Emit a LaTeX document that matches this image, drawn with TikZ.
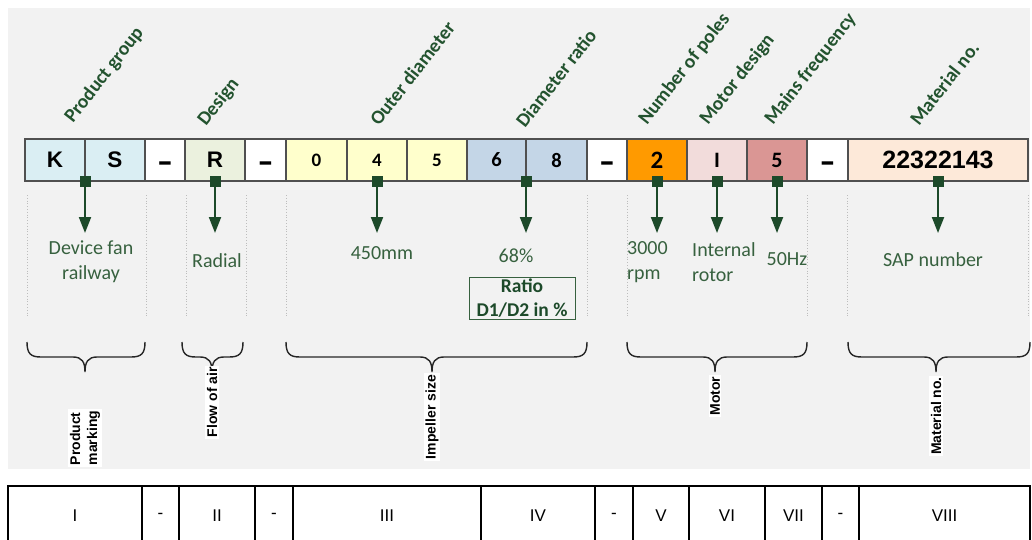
\documentclass[tikz,border=0pt]{standalone}
\usepackage{fontspec}
\setmainfont{Carlito}
\newfontfamily\arialf{Liberation Sans}
\usetikzlibrary{arrows.meta}
\definecolor{bgc}{HTML}{F2F2F2}
\definecolor{boxline}{HTML}{505050}
\definecolor{cKS}{HTML}{DAEEF3}
\definecolor{cR}{HTML}{EBF1DE}
\definecolor{cY}{HTML}{FFFFCC}
\definecolor{cB}{HTML}{C4D6E7}
\definecolor{cO}{HTML}{FF9A00}
\definecolor{cI}{HTML}{F2DCDB}
\definecolor{cF}{HTML}{DA9694}
\definecolor{cM}{HTML}{FDE9D9}
\definecolor{dgreen}{HTML}{1D4A2A}
\definecolor{labgreen}{HTML}{23532F}
\definecolor{valgreen}{HTML}{37613F}
\definecolor{dotc}{HTML}{BDBDBD}
\newcommand\mybrace[3]{\draw[bracestyle] (#1,342) .. controls (#1,354) and (#1+4,357) .. (#1+14,357) -- (#2-12,357) .. controls (#2-3,357) and (#2,362) .. (#2,372) .. controls (#2,362) and (#2+3,357) .. (#2+12,357) -- (#3-14,357) .. controls (#3-4,357) and (#3,354) .. (#3,342);}
\newcommand\bdash{\scalebox{1.1}[1.6]{–}}
\begin{document}
\begin{tikzpicture}[x=1pt,y=-1pt,
  codebox/.style={draw=boxline, line width=1.2pt, minimum height=42pt, inner sep=0pt},
  bigA/.style={font=\arialf\bfseries\fontsize{22.5}{22.5}\selectfont},
  dashbox/.style={codebox, fill=white, text height=24pt, text depth=0pt, font=\arialf\bfseries\fontsize{21}{21}\selectfont},
  dig/.style={font=\bfseries\fontsize{19}{19}\selectfont},
  toplab/.style={rotate=52, anchor=base west, inner sep=0pt, text=labgreen, font=\bfseries\fontsize{19.5}{19.5}\selectfont},
  marker/.style={fill=dgreen, minimum size=11pt, inner sep=0pt},
  arr/.style={draw=dgreen, line width=2pt, -{Triangle[length=16pt,width=12pt]}},
  val/.style={inner sep=0pt, text=valgreen, font=\fontsize{20}{25}\selectfont},
  dotline/.style={draw=dotc, line width=0.8pt, dotted},
  bracestyle/.style={draw=black!85, line width=1.4pt},
  vlab/.style={rotate=90, fill=white, inner sep=1.5pt, font=\arialf\bfseries\fontsize{14}{17}\selectfont},
  cell/.style={draw=black, line width=2pt, minimum height=60pt, inner sep=0pt, font=\arialf\fontsize{17}{17}\selectfont}]
\useasboundingbox (0,0) rectangle (1032,540);
\clip (0,0) rectangle (1032,540);
\fill[bgc] (8,8) rectangle (1030,469);

% dotted guides
\foreach \x in {27,146,186,246,286,587,627,807,847,1028}
  \draw[dotline] (\x,195) -- (\x,318);

% code row
\node[codebox, fill=cKS, minimum width=60pt, bigA] (bK) at (55,160) {K};
\node[codebox, fill=cKS, minimum width=60pt, bigA] (bS) at (115,160) {S};
\node[dashbox, minimum width=40pt] (d1) at (165,160) {\bdash};
\node[codebox, fill=cR, minimum width=60pt, bigA] (bR) at (215,160) {R};
\node[dashbox, minimum width=41pt] (d2) at (265.5,160) {\bdash};
\node[codebox, fill=cY, minimum width=61pt, dig] (b0) at (316.5,160) {0};
\node[codebox, fill=cY, minimum width=60pt, dig] (b4) at (377,160) {4};
\node[codebox, fill=cY, minimum width=60pt, dig] (b5) at (437,160) {5};
\node[codebox, fill=cB, minimum width=59pt, font=\bfseries\fontsize{20.5}{20.5}\selectfont] (b6) at (496.5,160) {6};
\node[codebox, fill=cB, minimum width=61pt, font=\bfseries\fontsize{20.5}{20.5}\selectfont] (b8) at (556.5,160) {8};
\node[dashbox, minimum width=40pt] (d3) at (607,160) {\bdash};
\node[codebox, fill=cO, minimum width=60pt, font=\bfseries\fontsize{25}{25}\selectfont] (b2) at (657,160) {2};
\node[codebox, fill=cI, minimum width=60pt, font=\bfseries\fontsize{22}{22}\selectfont] (bI) at (717,160) {I};
\node[codebox, fill=cF, minimum width=60pt, font=\bfseries\fontsize{22}{22}\selectfont] (b5b) at (777,160) {5};
\node[dashbox, minimum width=41pt] (d4) at (827.5,160) {\bdash};
\node[codebox, fill=cM, minimum width=180pt, font=\arialf\bfseries\fontsize{25}{25}\selectfont] (bM) at (938,160) {22322143};

% top labels
\node[toplab] (t1) at (73,124) {Product group};
\node[toplab] (t2) at (206,127) {Design};
\node[toplab] (t3) at (379,127) {Outer diameter};
\node[toplab] (t4) at (525,129) {Diameter ratio};
\node[toplab] (t5) at (647,126) {Number of poles};
\node[toplab] (t6) at (708,126) {Motor design};
\node[toplab] (t7) at (773,126) {Mains frequency};
\node[toplab] (t8) at (919,127) {Material no.};

% markers and arrows
\foreach \n/\x in {1/85,2/215,3/377,4/526,5/657,6/717,7/777,8/938}{
  \node[marker] (m\n) at (\x,181) {};
  \coordinate (e\n) at (\x,233);
  \draw[arr] (m\n.south) -- (e\n);
}

% values
\node[val, align=center] (v1) at (91,262) {Device fan\\railway};
\node[val] (v2) at (217,260.5) {Radial};
\node[val] (v3) at (382,253.5) {450mm};
\node[val] (v4) at (516,255.5) {68\%};
\node[val, align=left, anchor=west] (v5) at (627,262) {3000\\rpm};
\node[val, align=left, anchor=west] (v6) at (692,262) {Internal\\rotor};
\node[val] (v7) at (787,259) {50Hz};
\node[val] (v8) at (933,259.5) {SAP number};
\node[draw=valgreen, line width=0.8pt, minimum width=106pt, minimum height=42pt, inner sep=0pt, align=center, text=dgreen, font=\bfseries\fontsize{19.5}{24}\selectfont] (ratio) at (522,298) {Ratio\\D1/D2 in \%};

% braces
\mybrace{27}{85}{145}
\mybrace{182}{212}{243}
\mybrace{286}{432}{587}
\mybrace{627}{715}{807}
\mybrace{848}{936}{1030}

% vertical labels
\node[vlab, align=left] (g1) at (85,438) {Product\\marking};
\node[vlab] (g2) at (212,402) {Flow of air};
\node[vlab] (g3) at (432,417) {Impeller size};
\node[vlab] (g4) at (715,396) {Motor};
\node[vlab] (g5) at (936,416) {Material no.};

% bottom table
\foreach \n/\a/\b/\t in {1/8/142/I,2/142/179/-,3/179/255/II,4/255/293/-,5/293/481/III,6/481/595/IV,7/595/633/-,8/633/689/V,9/689/765/VI,10/765/822/VII,11/822/859/-,12/859/1030/VIII}
  \node[cell, minimum width={\b-\a}] (c\n) at ({(\a+\b)/2},516) {\t};
\end{tikzpicture}
\end{document}
